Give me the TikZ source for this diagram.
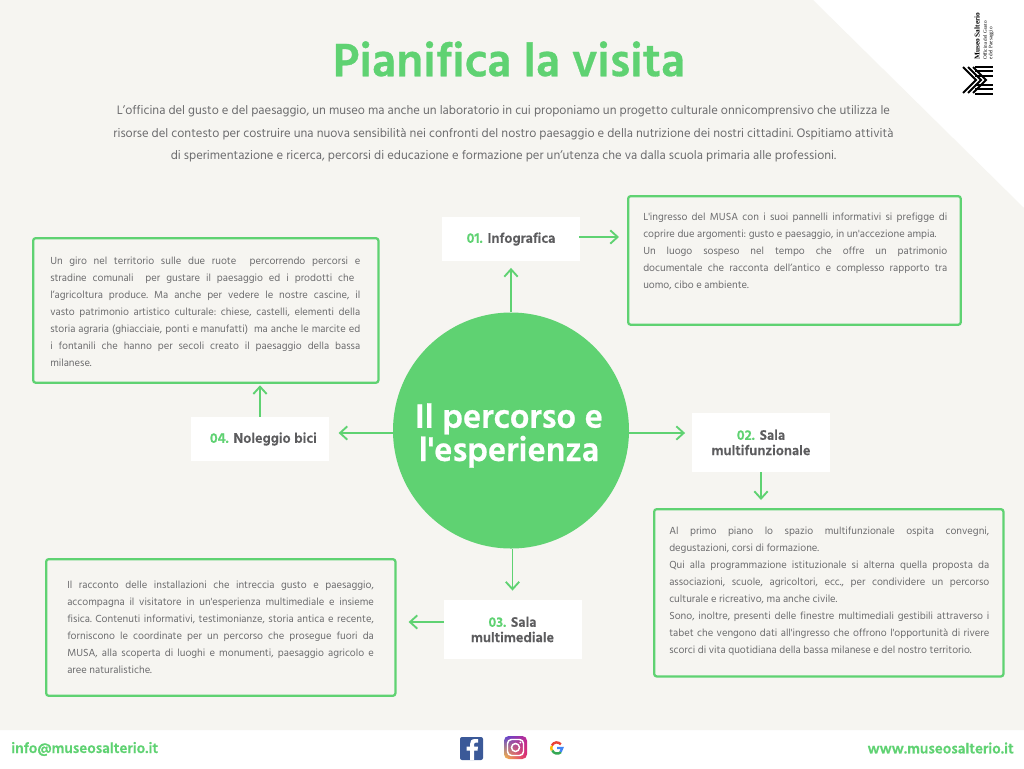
\documentclass[tikz,border=0pt]{standalone}
\usepackage{fontspec}
\setmainfont[Ligatures=TeXOff,BoldFeatures={FakeBold=0.6}]{Hind Madurai}
\newfontfamily\logofont{Liberation Serif}
\usetikzlibrary{calc}
\usetikzlibrary{arrows.meta,shadings}

\definecolor{musagreen}{HTML}{5FD272}
\definecolor{musabeige}{HTML}{F6F5F1}
\definecolor{musagray}{HTML}{5C5C5E}

\newcommand{\jline}[1]{\makebox[\hsize][s]{#1}\\}
\newcommand{\num}[1]{\textcolor{musagreen}{\bfseries #1}}

\tikzset{
  lab/.style={fill=white, minimum width=103.5pt, inner sep=0pt, align=center,
    text=musagray, font=\fontsize{10.7}{11.5}\selectfont\bfseries},
  card/.style={draw=musagreen, line width=1.7pt, rounded corners=2pt, anchor=north west,
    inner sep=0pt},
  cardtext/.style={text=musagray!90, anchor=north west, inner sep=0pt, align=justify,
    font=\frenchspacing\fontsize{7.9}{12.75}\selectfont},
  link/.style={draw=musagreen, line width=1.4pt, -{Straight Barb[length=5.5pt,width=10pt]}},
  foot/.style={inner sep=0pt, text=musagreen, font=\fontsize{11.3}{13}\selectfont\bfseries},
  logotext/.style={rotate=90, anchor=west, inner sep=0pt, text=black},
  logobar/.style={line width=1.5pt, black},
}

\begin{document}
\begin{tikzpicture}[x=0.75pt,y=-0.75pt]
    \useasboundingbox (0,0) rectangle (1024,768);
    \fill [white] (0,0) rectangle (1024,768);
    \fill [musabeige] (0,0) -- (813,0) -- (1024,208) -- (1024,730) -- (0,730) -- cycle;

    % title
    \node (title) [text=musagreen, font=\fontsize{36}{40}\selectfont\bfseries] at (509,59) {Pianifica la visita};
    \node (intro) [text=musagray!90, align=center, font=\frenchspacing\fontsize{9.45}{16.9}\selectfont] at (503.5,134)
      {L’officina del gusto e del paesaggio, un museo ma anche un laboratorio in cui proponiamo un progetto culturale onnicomprensivo che utilizza le\\
       risorse del contesto per costruire una nuova sensibilità nei confronti del nostro paesaggio e della nutrizione dei nostri cittadini. Ospitiamo attività\\
       di sperimentazione e ricerca, percorsi di educazione e formazione per un’utenza che va dalla scuola primaria alle professioni.};

    % logo
    \node (logo1) [logotext, font=\logofont\bfseries\fontsize{5.5}{6}\selectfont] at (977,60) {Museo Salterio};
    \node (logo2) [logotext, font=\logofont\fontsize{3.9}{4}\selectfont] at (985,60) {Officina del Gusto};
    \node (logo3) [logotext, font=\logofont\fontsize{3.9}{4}\selectfont] at (991,60) {e del Paesaggio};
    \foreach \y in {66.5,71,75.5,84.5,89,93.5}
      \draw [logobar] (975,\y) -- (993,\y);
    \foreach \x in {0,5,10}
      \draw [logobar] (963+\x,67) -- (976+\x,80) -- (963+\x,93);

    % centre
    \node (centre) [circle, fill=musagreen, minimum size=177pt, inner sep=0pt, text=white] at (511,430.5) {};
    \node (centretext) [align=center, text=white, font=\fontsize{26}{23.5}\selectfont\bfseries] at (509,435.5) {Il percorso e\\l'esperienza};

    % labels
    \node (lab1) [lab, minimum height=33pt] at (511,239) {\raisebox{-1.2pt}{\num{01.} Infografica}};
    \node (lab2) [lab, minimum height=44pt] at (761,442.5) {\num{02.} Sala\\multifunzionale};
    \node (lab3) [lab, minimum height=44pt] at (512.5,629.5) {\num{03.} Sala\\multimediale};
    \node (lab4) [lab, minimum height=33pt] at (260,439) {\hspace*{5pt}\num{04.} Noleggio bici};

    % cards
    \node (card1) [card, minimum width=249.5pt, minimum height=96.5pt] at (627,195) {};
    \node (card2) [card, minimum width=262pt, minimum height=125.5pt] at (653,508) {};
    \node (card3) [card, minimum width=262pt, minimum height=102.5pt] at (45,558) {};
    \node (card4) [card, minimum width=259pt, minimum height=108.5pt] at (32,237) {};

    \node (text1) [cardtext, text width=228pt] at (643,212.5) {%
      \jline{L'ingresso del MUSA con i suoi pannelli informativi si prefigge di}
      coprire due argomenti: gusto e paesaggio, in un'accezione ampia.\\
      \jline{Un luogo sospeso nel tempo che offre un patrimonio}
      \jline{documentale che racconta dell’antico e complesso rapporto tra}
      uomo, cibo e ambiente.};
    \node (text2) [cardtext, text width=240pt] at (669,527) {%
      \jline{Al primo piano lo spazio multifunzionale ospita convegni,}
      degustazioni, corsi di formazione.\\
      \jline{Qui alla programmazione istituzionale si alterna quella proposta da}
      \jline{associazioni, scuole, agricoltori, ecc., per condividere un percorso}
      culturale e ricreativo, ma anche civile.\\
      \jline{Sono, inoltre, presenti delle finestre multimediali gestibili attraverso i}
      \jline{tabet che vengono dati all'ingresso che offrono l'opportunità di rivere}
      scorci di vita quotidiana della bassa milanese e del nostro territorio.};
    \node (text3) [cardtext, text width=230pt] at (67,581) {%
      \jline{Il racconto delle installazioni che intreccia gusto e paesaggio,}
      \jline{accompagna il visitatore in un'esperienza multimediale e insieme}
      \jline{fisica. Contenuti informativi, testimonianze, storia antica e recente,}
      \jline{forniscono le coordinate per un percorso che prosegue fuori da}
      \jline{MUSA, alla scoperta di luoghi e monumenti, paesaggio agricolo e}
      aree naturalistiche.};
    \node (text4) [cardtext, text width=232.5pt] at (50,257) {%
      \jline{Un giro nel territorio sulle due ruote \ percorrendo percorsi e}
      \jline{stradine comunali \ per gustare il paesaggio ed i prodotti che\ }
      \jline{l’agricoltura produce. Ma anche per vedere le nostre cascine, il}
      \jline{vasto patrimonio artistico culturale: chiese, castelli, elementi della}
      \jline{storia agraria (ghiacciaie, ponti e manufatti) \ ma anche le marcite ed}
      \jline{i fontanili che hanno per secoli creato il paesaggio della bassa}
      milanese.};

    % arrows
    \coordinate (out1) at (579,237);
    \coordinate (out3) at (444,622);
    \coordinate (mid1) at (629,433);
    \coordinate (mid4) at (393,433);
    \draw [link, shorten >=5pt] (lab1.south |- centre.north) -- (lab1.south);
    \draw [link, shorten >=6pt] (out1) -- (out1 -| card1.west);
    \draw [link, shorten >=5pt] (mid1) -- (mid1 -| lab2.west);
    \draw [link, shorten >=6pt] (lab2.south) -- (lab2.south |- card2.north);
    \draw [link, shorten >=7pt] (lab3.north |- centre.south) -- (lab3.north);
    \draw [link, shorten >=9pt] (out3) -- (out3 -| card3.east);
    \draw [link, shorten >=7pt] (mid4) -- (mid4 -| lab4.east);
    \draw [link, shorten >=1pt] (lab4.north) -- (lab4.north |- card4.south);

    % footer
    \node (mail) [foot, anchor=west] at (11,749) {info@museosalterio.it};
    \node (web) [foot, anchor=east] at (1014,748) {www.museosalterio.it};

    % facebook
    \fill [rounded corners=1.5pt, fill={rgb,255:red,59;green,89;blue,152}] (460,737) rectangle (483,760);
    \fill [white] (474,760) -- (474,750.5) -- (477.5,750.5) -- (478,746.5) -- (474,746.5) -- (474,744.5)
      .. controls (474,743) and (475,742.5) .. (476,742.5) -- (478,742.5) -- (478,739) -- (475,739)
      .. controls (471.5,739) and (470,741) .. (470,744) -- (470,746.5) -- (466.5,746.5) -- (466.5,750.5)
      -- (470,750.5) -- (470,760) -- cycle;

    % instagram
    \shade [rounded corners=3.5pt, shading=bilinear interpolation,
      upper left={rgb,255:red,90;green,70;blue,210}, upper right={rgb,255:red,190;green,40;blue,150},
      lower left={rgb,255:red,250;green,190;blue,70}, lower right={rgb,255:red,225;green,40;blue,110}]
      (504,736) rectangle (527,759);
    \draw [white, line width=1.1pt, rounded corners=3pt] (507.5,739.5) rectangle (523.5,755.5);
    \draw [white, line width=1.1pt] (515.5,747.5) circle (4);
    \fill [white] (520.3,742.5) circle (1);

    % google
    \draw [line width=1.8pt, color={rgb,255:red,234;green,67;blue,53}] (551.8,745.5) arc[start angle=205, end angle=320, radius=5.4];
    \draw [line width=1.8pt, color={rgb,255:red,251;green,188;blue,5}] (551.8,750.5) arc[start angle=155, end angle=205, radius=5.4];
    \draw [line width=1.8pt, color={rgb,255:red,52;green,168;blue,83}] (561,752) arc[start angle=45, end angle=155, radius=5.4];
    \draw [line width=1.8pt, color={rgb,255:red,66;green,133;blue,244}] (557,748) -- (562.2,748) arc[start angle=0, end angle=45, radius=5.4];
\end{tikzpicture}
\end{document}
